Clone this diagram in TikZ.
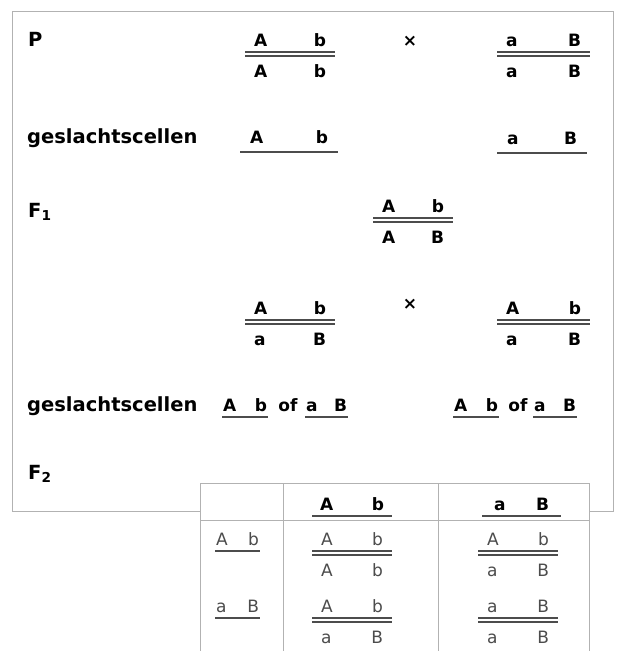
\documentclass[tikz,border=0pt]{standalone}
\usepackage{fontspec}
\setmainfont{DejaVu Sans}
\usetikzlibrary{positioning}

% genotype: [stijl]{naam}{x}{breedte}{y streep}{boven}{onder}
\newcommand{\genotype}[7][gene]{%
  \draw[dbl] (#3,#5) -- ++(#4,0);
  \node[#1] (#2t) at (#3+#4/2,#5-8) {\makebox[\dimexpr#4pt-18pt]{#6}};
  \node[#1] (#2b) at (#3+#4/2,#5+23) {\makebox[\dimexpr#4pt-18pt]{#7}};
}
% gameet: [stijl]{naam}{x}{breedte}{y streep}{inspringen}{tekst}
\newcommand{\gameet}[7][gene]{%
  \draw[ul] (#3,#5) -- ++(#4,0);
  \node[#1] (#2) at (#3+#4/2,#5-6) {\makebox[\dimexpr#4pt-#6pt]{#7}};
}

\begin{document}
\begin{tikzpicture}[x=1pt,y=-1pt,
    lbl/.style={anchor=base west,inner sep=0pt,font=\bfseries\fontsize{19.5}{18}\selectfont},
    gene/.style={anchor=base,inner sep=0pt,font=\bfseries\fontsize{17}{18}\selectfont},
    cel/.style={anchor=base,inner sep=0pt,font=\fontsize{17}{18}\selectfont,text=black!70},
    dbl/.style={draw=black!70,double=white,line width=1.3pt,double distance=2.7pt},
    ul/.style={draw=black!70,line width=1.4pt},
    rand/.style={draw=black!30,line width=0.7pt}
  ]
  \useasboundingbox (0,0) rectangle (620,651);
  \draw[rand] (12,11) rectangle (613,511);

  \node[lbl] (p) at (28,46) {P};
  \node[lbl] (gc1) at (27,143) {geslachtscellen};
  \node[lbl] (f1) at (28,217) {F\textsubscript{1}};
  \node[lbl] (gc2) at (27,411) {geslachtscellen};
  \node[lbl] (f2) at (28,479) {F\textsubscript{2}};

  % P
  \genotype{pl}{245}{90}{54}{A\hfill b}{A\hfill b}
  \node[gene] (x1) at (410,46) {×};
  \genotype{pr}{497}{93}{54}{a\hfill B}{a\hfill B}
  \gameet[gene,yshift=3pt]{gl}{240}{98}{152}{20}{A\hfill b}
  \gameet[gene,yshift=3pt]{gr}{497}{90}{153}{20}{a\hfill B}

  % F1
  \genotype{fa}{373}{80}{220}{A\hfill b}{A\hfill B}
  \genotype{kl}{245}{90}{322}{A\hfill b}{a\hfill B}
  \node[gene] (x2) at (410,309) {×};
  \genotype{kr}{497}{93}{322}{A\hfill b}{a\hfill B}
  \gameet{ga}{222}{46}{417}{2}{A\hfill b}
  \node[gene] (of1) at (288,411) {of};
  \gameet{gb}{305}{43}{417}{2}{a\hfill B}
  \gameet{gc}{453}{46}{417}{2}{A\hfill b}
  \node[gene] (of2) at (518,411) {of};
  \gameet{gd}{533}{44}{417}{2}{a\hfill B}

  % F2 tabel
  \fill[white] (200,483) rectangle (589,651);
  \draw[rand] (200,651) -- (200,483) -- (589,483) -- (589,651);
  \draw[rand] (200,520) -- (589,520);
  \draw[rand] (283,483) -- (283,651) (438,483) -- (438,651);
  \gameet{ha}{312}{80}{516}{16}{A\hfill b}
  \gameet{hb}{482}{79}{516}{24}{a\hfill B}
  \gameet[cel]{ra}{215}{45}{551}{2}{A\hfill b}
  \gameet[cel]{rb}{215}{45}{618}{2}{a\hfill B}
  \genotype[cel]{c11}{312}{80}{553}{A\hfill b}{A\hfill b}
  \genotype[cel]{c12}{478}{80}{553}{A\hfill b}{a\hfill B}
  \genotype[cel]{c21}{312}{80}{620}{A\hfill b}{a\hfill B}
  \genotype[cel]{c22}{478}{80}{620}{a\hfill B}{a\hfill B}
\end{tikzpicture}
\end{document}
